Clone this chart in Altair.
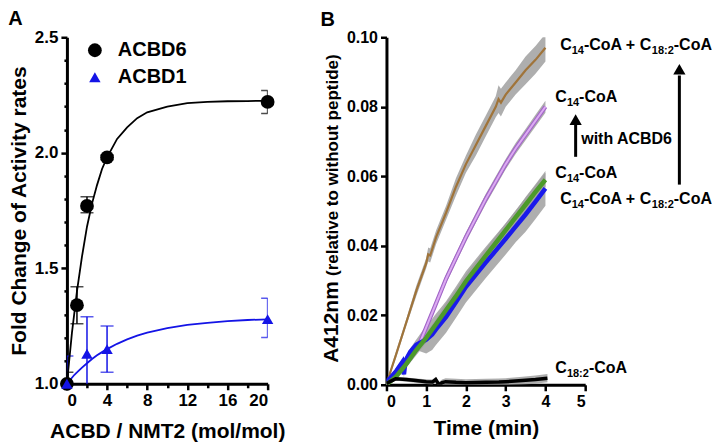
import altair as alt
import pandas as pd

FONT = "Liberation Sans"
BLUE_A = "#1414e6"

# ---------------- Panel A data ----------------
acbd6_x = [0, 1, 2, 4, 20]
acbd6_y = [1.00, 1.34, 1.77, 1.98, 2.22]
acbd6_lo = [0.95, 1.26, 1.74, 1.97, 2.17]
acbd6_hi = [1.05, 1.42, 1.81, 1.99, 2.27]

acbd1_x = [0, 2, 4, 20]
acbd1_y = [1.00, 1.13, 1.15, 1.28]
acbd1_lo = [0.88, 0.97, 1.05, 1.20]
acbd1_hi = [1.12, 1.29, 1.25, 1.37]

fit_x = [0, 0.25, 0.5, 0.75, 1, 1.5, 2, 2.5, 3, 3.5, 4, 5, 6, 7, 8, 10, 12, 14, 16, 18, 20]
acbd6_fit = [1.00, 1.11, 1.22, 1.31, 1.40, 1.55, 1.68, 1.78, 1.86, 1.93, 1.98, 2.06, 2.11,
             2.15, 2.175, 2.20, 2.215, 2.22, 2.223, 2.224, 2.225]
acbd1_fit = [1.00, 1.013, 1.026, 1.039, 1.049, 1.070, 1.089, 1.107, 1.123, 1.137, 1.150,
             1.173, 1.192, 1.208, 1.221, 1.241, 1.255, 1.264, 1.271, 1.276, 1.279]

# ---------------- Panel B data ----------------
brown_t = [0.05, 0.25, 0.5, 0.75, 1.0, 1.05, 1.1, 1.25, 1.5, 1.75, 2.0, 2.25, 2.5, 2.75,
           2.82, 2.88, 3.0, 3.25, 3.5, 3.75, 4.0]
brown_y = [0.002, 0.009, 0.018, 0.027, 0.035, 0.0375, 0.0372, 0.0425, 0.0495, 0.0570, 0.0635,
           0.0690, 0.0745, 0.0800, 0.0822, 0.0812, 0.0835, 0.0870, 0.0905, 0.0935, 0.0970]
brown_e = [0.0005, 0.001, 0.001, 0.0015, 0.0015, 0.002, 0.002, 0.002, 0.002, 0.0025, 0.0025,
           0.003, 0.003, 0.003, 0.004, 0.004, 0.0035, 0.0035, 0.004, 0.004, 0.004]

purple_t = [0.0, 0.25, 0.5, 0.78, 1.0, 1.25, 1.5, 1.75, 2.0, 2.25, 2.5, 2.75, 3.0, 3.25, 3.5,
            3.75, 4.0]
purple_y = [0.0, 0.003, 0.006, 0.0105, 0.0165, 0.0235, 0.0305, 0.0365, 0.0425, 0.0480, 0.0535,
            0.0585, 0.0635, 0.0680, 0.0720, 0.0760, 0.0800]
purple_e = [0.0005, 0.0008, 0.001, 0.001, 0.0012, 0.0012, 0.0013, 0.0013, 0.0014, 0.0014,
            0.0015, 0.0015, 0.0015, 0.0016, 0.0016, 0.0017, 0.0017]

green_t = [0.0, 0.25, 0.5, 0.75, 1.0, 1.25, 1.5, 1.75, 2.0, 2.25, 2.5, 2.75, 3.0, 3.25, 3.5,
           3.75, 4.0]
green_y = [0.0, 0.0025, 0.0060, 0.0100, 0.0135, 0.0175, 0.0215, 0.0255, 0.0298, 0.0335,
           0.0372, 0.0408, 0.0445, 0.0482, 0.0518, 0.0555, 0.0590]
green_e = [0.0005, 0.001, 0.001, 0.0015, 0.0015, 0.0015, 0.002, 0.002, 0.002, 0.002, 0.002,
           0.002, 0.002, 0.002, 0.002, 0.002, 0.002]

blue_t = [0.0, 0.1, 0.25, 0.4, 0.44, 0.48, 0.6, 0.75, 1.0, 1.15, 1.25, 1.5, 1.75, 2.0, 2.25,
          2.5, 2.75, 3.0, 3.25, 3.5, 3.75, 4.0]
blue_y = [0.001, 0.002, 0.004, 0.0065, 0.003, 0.007, 0.0095, 0.0115, 0.0130, 0.0145, 0.0160,
          0.0195, 0.0238, 0.0282, 0.0317, 0.0352, 0.0386, 0.0420, 0.0455, 0.0490, 0.0527, 0.0565]
blue_e = [0.0005, 0.0005, 0.001, 0.001, 0.001, 0.001, 0.001, 0.0015, 0.004, 0.0045, 0.0045,
          0.0045, 0.0045, 0.0045, 0.0045, 0.0045, 0.0045, 0.0045, 0.0045, 0.005, 0.005, 0.005]

black_t = [0.0, 0.1, 0.23, 0.5, 0.74, 1.0, 1.16, 1.24, 1.32, 1.4, 1.49, 1.75, 2.0, 2.5, 2.83,
           3.0, 3.42, 3.75, 4.05]
black_y = [0.0003, 0.001, 0.0017, 0.0015, 0.0012, 0.0009, 0.0008, 0.0015, 0.0000, 0.0006,
           0.0009, 0.0007, 0.0006, 0.0007, 0.0008, 0.0009, 0.0012, 0.0015, 0.0019]
black_e = [0.0003, 0.0005, 0.0005, 0.0006, 0.0006, 0.0007, 0.0007, 0.0008, 0.0008, 0.0009,
           0.001, 0.001, 0.001, 0.001, 0.001, 0.001, 0.0011, 0.0012, 0.0012]

# annotation labels: (t, y, [(text, is_subscript), ...])
labels_b = [
    (4.37, 0.0963, [("C", 0), ("14", 1), ("-CoA + C", 0), ("18:2", 1), ("-CoA", 0)]),
    (4.25, 0.0815, [("C", 0), ("14", 1), ("-CoA", 0)]),
    (4.25, 0.0596, [("C", 0), ("14", 1), ("-CoA", 0)]),
    (4.37, 0.0519, [("C", 0), ("14", 1), ("-CoA + C", 0), ("18:2", 1), ("-CoA", 0)]),
    (4.25, 0.0035, [("C", 0), ("18:2", 1), ("-CoA", 0)]),
]
with_text = [(4.90, 0.0693, "with ACBD6")]
arrow_t = [4.76, 7.37]
arrow_y0 = [0.0656, 0.0576]
arrow_y1 = [0.0755, 0.0890]
arrow_head = [0.0763, 0.0908]

A_W, A_H = 201, 347
B_W, B_H = 199, 348

# ---------------- Panel A ----------------
pts = pd.DataFrame({
    "series": ["ACBD6"] * len(acbd6_x) + ["ACBD1"] * len(acbd1_x),
    "x": acbd6_x + acbd1_x,
    "y": acbd6_y + acbd1_y,
    "lo": acbd6_lo + acbd1_lo,
    "hi": acbd6_hi + acbd1_hi,
})
fit = pd.DataFrame({
    "series": ["ACBD6"] * len(fit_x) + ["ACBD1"] * len(fit_x),
    "x": fit_x + fit_x,
    "y": acbd6_fit + acbd1_fit,
})

ax_xA = alt.Axis(values=list(range(0, 21, 2)),
                 labelExpr="datum.value % 4 == 0 ? datum.label : ''",
                 tickSize={"condition": {"test": "datum.value % 4 == 0", "value": 6}, "value": 4},
                 title="ACBD / NMT2 (mol/mol)", labelFontSize=17, titlePadding=12, labelPadding=3)
yvals = [round(1.0 + 0.1 * i, 1) for i in range(16)]
ax_yA = alt.Axis(values=yvals, format=".1f",
                 labelExpr="abs(datum.value*2 - round(datum.value*2)) < 0.001 ? datum.label : ''",
                 tickSize={"condition": {"test": "abs(datum.value*2 - round(datum.value*2)) < 0.001",
                                         "value": 6}, "value": 3},
                 title="Fold  Change of Activity rates", labelFontSize=17, titlePadding=5,
                 labelPadding=3)
xA = alt.X("x:Q", scale=alt.Scale(domain=[0, 20], nice=False, zero=False), axis=ax_xA)
sA = alt.Scale(domain=[1.0, 2.5], nice=False, zero=False)

layersA = []
for s, c in [("ACBD1", BLUE_A), ("ACBD6", "black")]:
    layersA.append(alt.Chart(fit[fit.series == s]).mark_line(color=c, strokeWidth=1.8, clip=True)
                   .encode(x=xA, y=alt.Y("y:Q", scale=sA, axis=ax_yA)))
    sub = pts[pts.series == s]
    layersA.append(alt.Chart(sub).mark_rule(color=c, strokeWidth=1.5, clip=True)
                   .encode(x=xA, y=alt.Y("lo:Q", scale=sA, axis=ax_yA), y2="hi:Q"))
    layersA.append(alt.Chart(sub).transform_fold(["lo", "hi"], as_=["k", "v"])
                   .mark_tick(color=c, orient="horizontal", size=13, thickness=1.5, clip=True)
                   .encode(x=xA, y=alt.Y("v:Q", scale=sA, axis=ax_yA)))

leg = alt.Legend(orient="none", legendX=18, legendY=3, title=None, labelFontSize=20,
                 labelFont=FONT, labelFontWeight="bold", labelColor="black", rowPadding=7,
                 labelOffset=13, symbolStrokeWidth=0)
dom = ["ACBD6", "ACBD1"]
layersA.append(alt.Chart(pts).mark_point(filled=True, opacity=1).encode(
    x=xA, y=alt.Y("y:Q", scale=sA, axis=ax_yA),
    color=alt.Color("series:N", scale=alt.Scale(domain=dom, range=["black", BLUE_A]), legend=leg),
    shape=alt.Shape("series:N", scale=alt.Scale(domain=dom, range=["circle", "triangle-up"]), legend=leg),
    size=alt.Size("series:N", scale=alt.Scale(domain=dom, range=[190, 130]), legend=leg),
))

panelA = alt.layer(*layersA).properties(
    width=A_W, height=A_H,
    title=alt.TitleParams("A", anchor="start", frame="bounds", fontSize=20, font=FONT,
                          fontWeight="bold", color="black", offset=-1))

# ---------------- Panel B ----------------
rows = []
for name, ts, ys, es in [("brown", brown_t, brown_y, brown_e), ("purple", purple_t, purple_y, purple_e),
                         ("green", green_t, green_y, green_e), ("blue", blue_t, blue_y, blue_e),
                         ("black", black_t, black_y, black_e)]:
    for t, y, e in zip(ts, ys, es):
        rows.append({"series": name, "t": t, "y": y, "lo": y - e, "hi": y + e})
dfB = pd.DataFrame(rows)

ax_xB = alt.Axis(values=[0, 1, 2, 3, 4, 5], title="Time (min)", labelFontSize=16,
                 titlePadding=8, labelPadding=3, tickSize=6)
ax_yB = alt.Axis(values=[0, 0.02, 0.04, 0.06, 0.08, 0.10], format=".2f", title=None,
                 labelFontSize=16, labelPadding=3, tickSize=6)
xB = alt.X("t:Q", scale=alt.Scale(domain=[0, 5], nice=False, zero=False), axis=ax_xB)
sB = alt.Scale(domain=[0, 0.1], nice=False, zero=False)
yB = alt.Y("y:Q", scale=sB, axis=ax_yB)

layersB = [alt.Chart(dfB).mark_area(color="#a0a0a0", opacity=0.85, clip=True).encode(
    x=xB, y=alt.Y("lo:Q", scale=sB, axis=ax_yB), y2="hi:Q", detail="series:N")]
for name, col, w in [("brown", "#a0743a", 2.2), ("purple", "#a266c8", 4.2), ("purple", "#dcaaf2", 2.0),
                     ("blue", "#1a1aeb", 4.5), ("green", "#4c9a2a", 4.5), ("black", "black", 3.5)]:
    layersB.append(alt.Chart(dfB[dfB.series == name]).mark_line(color=col, strokeWidth=w, clip=True)
                   .encode(x=xB, y=yB))

# annotation texts with subscripts (Arial-bold advance widths)
W = {"C": 0.722, "o": 0.611, "A": 0.722, "-": 0.333, " ": 0.278, "+": 0.584, "1": 0.556,
     "4": 0.556, "8": 0.556, ":": 0.333, "2": 0.556}
MAIN, SUB = 16, 11
main_rows, sub_rows = [], []
for t0, y0, segs in labels_b:
    off = 0.0
    for txt, is_sub in segs:
        size = SUB if is_sub else MAIN
        (sub_rows if is_sub else main_rows).append({"t": t0 + off * 5 / B_W, "y": y0, "txt": txt})
        off += sum(W[ch] for ch in txt) * size
for t0, y0, txt in with_text:
    main_rows.append({"t": t0, "y": y0, "txt": txt})

txt_main = alt.Chart(pd.DataFrame(main_rows)).mark_text(
    align="left", baseline="alphabetic", font=FONT, fontWeight="bold", fontSize=MAIN, color="black"
).encode(x=xB, y=yB, text="txt:N")
txt_sub = alt.Chart(pd.DataFrame(sub_rows)).mark_text(
    align="left", baseline="alphabetic", font=FONT, fontWeight="bold", fontSize=SUB, color="black", dy=4
).encode(x=xB, y=yB, text="txt:N")

arr = pd.DataFrame({"t": arrow_t, "y": arrow_y0, "y1": arrow_y1, "yh": arrow_head})
arr_rule = alt.Chart(arr).mark_rule(color="black", strokeWidth=3).encode(
    x=xB, y=alt.Y("y:Q", scale=sB, axis=ax_yB), y2="y1:Q")
arr_head = alt.Chart(arr).mark_point(shape="triangle-up", filled=True, opacity=1, color="black",
                                     size=150).encode(x=xB, y=alt.Y("yh:Q", scale=sB, axis=ax_yB))

ytitle_big = alt.Chart(pd.DataFrame({"s": ["A412nm"]})).mark_text(
    angle=270, align="left", baseline="alphabetic", font=FONT, fontWeight="bold", fontSize=21,
    color="black").encode(text="s:N", x=alt.value(-49), y=alt.value(326))
ytitle_small = alt.Chart(pd.DataFrame({"s": ["(relative to without peptide)"]})).mark_text(
    angle=270, align="left", baseline="alphabetic", font=FONT, fontWeight="bold", fontSize=17,
    color="black").encode(text="s:N", x=alt.value(-49), y=alt.value(239))

panelB = alt.layer(*layersB, txt_main, txt_sub, arr_rule, arr_head, ytitle_big, ytitle_small).properties(
    width=B_W, height=B_H,
    title=alt.TitleParams("B", anchor="start", frame="bounds", fontSize=20, font=FONT,
                          fontWeight="bold", color="black", offset=-1))

chart = alt.hconcat(panelA, panelB, spacing=35).properties(
    padding={"left": 0, "right": 0, "top": 1, "bottom": 0}
).configure_view(stroke=None).configure_axis(
    domainWidth=3, domainColor="black", tickWidth=2.5, tickColor="black",
    labelFont=FONT, labelFontWeight="bold", labelColor="black",
    titleFont=FONT, titleFontWeight="bold", titleFontSize=21, titleColor="black", grid=False
)

chart.save("out.html", embed_options={"renderer": "svg", "actions": False})
